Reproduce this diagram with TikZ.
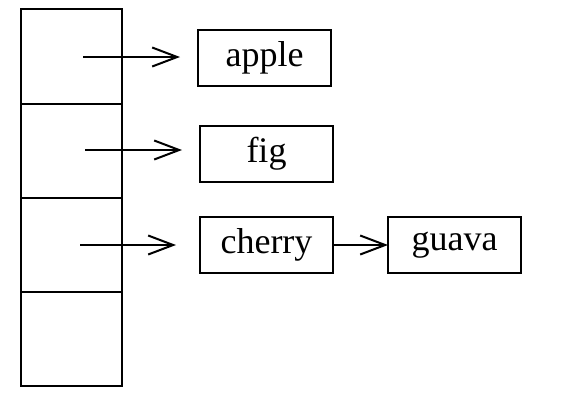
\documentclass[tikz,border=0pt]{standalone}
\usepackage{fontspec}
\setmainfont{Liberation Serif}
\usetikzlibrary{positioning,arrows.meta}

\begin{document}
\begin{tikzpicture}[x=1pt,y=-1pt,line width=2pt,
        cell/.style={draw,minimum width=101pt,minimum height=94.2pt,outer sep=0pt},
        box/.style={draw,minimum width=133pt,minimum height=56pt,outer sep=0pt,font=\fontsize{36}{40}\selectfont},
        ptr/.style={-{Straight Barb[length=25pt,width=19pt]}}]
        \useasboundingbox (0,0) rectangle (570,400);
        \node[cell] (C1) at (71.5,56.5) {};
        \node[cell] (C2) [below=0pt of C1] {};
        \node[cell] (C3) [below=0pt of C2] {};
        \node[cell] (C4) [below=0pt of C3] {};
        
        \node[box] (A) at (264.5,57.5) {apple};
        \node[box] (F) at (266.5,154) {fig};
        \node[box] (CH) at (266.5,245) {cherry};
        \node[box] (G) [right=55pt of CH] {guava};
        
        \coordinate (p1) at (83,57);
        \coordinate (p2) at (85,150);
        \coordinate (p3) at (80,245);
        
        \draw[ptr,shorten >=18pt] (p1) -- (p1 -| A.west);
        \draw[ptr,shorten >=18pt] (p2) -- (p2 -| F.west);
        \draw[ptr,shorten >=24pt] (p3) -- (p3 -| CH.west);
        \draw[ptr] (CH) -- (G);
    \end{tikzpicture}
\end{document}
